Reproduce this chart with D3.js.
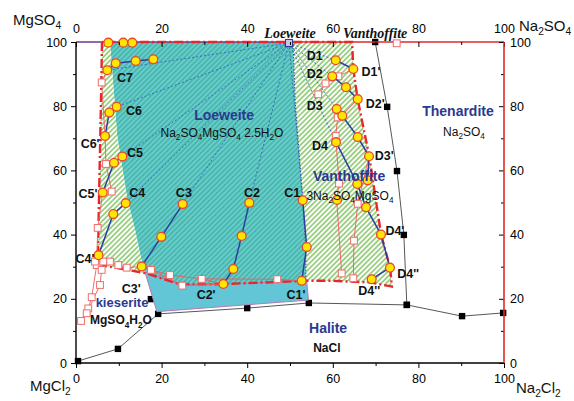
<!DOCTYPE html>
<html>
<head>
<meta charset="utf-8">
<script src="https://cdn.jsdelivr.net/npm/d3@7"></script>
<style>
  body { margin: 0; background: #fff; }
  svg { display: block; font-family: "Liberation Sans", Arial, sans-serif; }
</style>
</head>
<body>
<svg id="chart" width="574" height="401"></svg>
<script>
// ---- Jänecke diagram, Na2Cl2–MgCl2–Na2SO4–MgSO4 (x: Na2 fraction, y: SO4 fraction) ----

const majorTicks = [0, 20, 40, 60, 80, 100];
const minorTicks = [10, 30, 50, 70, 90];

// crystallisation fields (composition %, x / y)
const loeweiteField = [[7.94,100],[50.7,100],[51.2,81.9],[51.9,69.5],[53.0,50.8],[53.7,35.2],[53.7,25.5],
  [44.6,25.1],[32.0,24.5],[24.3,24.5],[16.5,27.9],[15.7,29.6],[13.8,41.4],[11.9,51.7],[9.6,71.0]];
const leftHatchField = [[6.07,100],[7.94,100],[9.6,71.0],[11.9,51.7],[13.8,41.4],[15.7,29.6],[16.5,27.9],
  [10.98,29.3],[6.78,30.2],[5.14,31.5],[5.14,35.2],[5.37,50.8],[5.61,66.4],[5.84,81.9]];
const vanthoffiteField = [[50.7,100],[64.5,100],[64.79,91.6],[65.82,82.2],[68.46,64.5],[71.3,39.9],[73.4,29.6],
  [73.8,23.8],[68.7,25.1],[60.0,25.6],[53.7,25.5],[53.7,35.2],[53.0,50.8],[51.9,69.5],[51.2,81.9]];
const loeweiteRightEdge = [[50.7,100],[51.2,81.9],[51.9,69.5],[53.0,50.8],[53.7,35.2],[53.7,25.5]];
const haliteLoeweiteField = [[16.1,28.4],[18.9,16.0],[54.3,19.6],[53.9,25.6],[44.6,25.1],[32.0,24.5],[24.3,24.5]];

// saturation boundary (dash-dot)
const saturationBoundary = [[6.07,100],[5.84,81.9],[5.61,66.4],[5.37,50.8],[5.14,35.2],[5.14,31.5],[6.78,30.2],
  [10.98,29.3],[16.5,27.9],[24.3,24.5],[32.0,24.5],[44.6,25.1],[53.0,25.6],[60.0,25.6],[68.7,25.1],[73.8,23.8],
  [73.4,29.6],[71.3,39.9],[68.5,64.5],[65.8,82.2],[64.8,91.6],[64.5,100],[6.07,100]];

// invariant curves of the stable system (black squares)
const thenarditeCurve = [[69.9,100],[72.7,79.8],[75.0,59.8],[76.6,39.9],[77.3,18.1]];
const haliteCurve = [[0.47,0.6],[9.8,4.4],[19.2,15.3],[40.0,17.1],[54.4,18.7],[77.3,18.1],[90.2,14.6],[99.8,15.6]];
const kieseritePoint = [[17.5,19.9]];

// tie lines, series C and D (yellow circles)
const tieC7 = [[7.31,91.2],[9.28,93.4],[13.95,94.1],[18.06,94.6]];
const tieC6 = [[6.78,70.7],[7.78,78.0],[9.51,79.8]];
const tieC5 = [[6.24,53.1],[8.88,62.4],[10.82,64.3]];
const tieC4 = [[5.26,33.6],[8.71,46.4],[11.61,49.8]];
const tieC3 = [[15.35,30.1],[19.93,39.3],[24.93,49.5]];
const tieC2 = [[34.42,24.6],[36.75,29.3],[38.71,39.6],[40.49,49.9]];
const tieC1 = [[52.73,25.6],[53.9,36.1],[52.97,50.7]];
const tieD1 = [[60.68,94.3],[64.79,91.6]];
const tieD2 = [[59.88,89.3],[63.08,85.9],[65.82,82.2]];
const tieD3 = [[60.91,79.1],[62.22,77.0],[65.82,70.4],[68.46,64.4],[68.15,56.9]];
const tieD4 = [[60.75,68.8],[65.72,55.8],[67.76,48.5],[71.26,40.0],[73.36,29.7],[69.09,26.1]];
const extraPoints = [[7.55,99.8],[11.05,99.8],[13.15,99.8],[60.98,50.8]];

// metastable paths (open squares)
const metaPaths = [
  [[64.79,91.6],[61.3,89.3],[58.3,87.1],[56.6,83.7]],
  [[65.82,82.2],[62.08,77.0],[61.14,76.5],[60.68,70.7],[61.45,55.9],[60.91,50.8],[62.08,27.9]],
  [[68.46,64.4],[65.82,49.6],[64.95,38.1],[64.79,26.4]],
  [[7.31,91.2],[6.0,87.4],[6.78,70.7],[7.01,62.0],[8.34,53.4]],
  [[6.24,53.1],[5.07,42.1],[4.84,30.5]],
  [[15.35,30.1],[11.85,29.7],[9.88,30.5],[7.94,31.6],[6.38,31.6],[4.44,31.6]],
  [[4.84,30.5],[3.67,20.5],[2.87,17.0],[1.17,13.1]],
  [[6.0,29.0],[5.61,24.3],[2.5,15.5]],
  [[15.35,30.1],[17.52,29.0],[21.96,27.4],[29.37,26.2],[34.42,24.6]],
  [[17.52,29.0],[24.84,24.1],[34.42,24.6]],
  [[29.37,26.2],[47.03,26.1],[52.73,25.6]]
];
const metaSquares = [[61.3,89.3],[58.3,87.1],[56.6,83.7],[61.14,76.5],[60.68,70.7],[61.45,55.9],[62.08,27.9],
  [65.82,49.6],[64.95,38.1],[64.79,26.4],[6.0,87.4],[7.01,62.0],[8.34,53.4],[5.07,42.1],[4.84,30.5],
  [11.85,29.7],[9.88,30.5],[7.94,31.6],[6.38,31.6],[4.44,31.6],[3.67,20.5],[2.87,17.0],[1.17,13.1],
  [6.0,29.0],[5.61,24.3],[2.5,15.5],[17.52,29.0],[21.96,27.4],[29.37,26.2],[24.84,24.1],[47.03,26.1],[74.93,99.6]];

// loeweite composition point and its tie-line fan
const loeweitePoint = [49.77, 99.7];
const fanTargets = [[7.31,91.2],[9.51,79.8],[10.82,64.3],[11.61,49.8],[24.93,49.5],[40.49,49.9],[52.97,50.7],
  [60.68,94.3],[59.88,89.3],[60.91,79.1],[60.75,68.8]];

// point names
const pointNames = ["C7","C6","C6'","C5","C5'","C4","C4'","C3","C3'","C2","C2'","C1","C1'",
  "D1","D1'","D2","D2'","D3","D3'","D4","D4'","D4''","D4''"];
const pointNameAt = [[11.45,87.5],[13.55,77.3],[3.3,67.0],[13.8,64.2],[2.8,51.4],[14.3,51.7],[2.1,31.2],
  [25.2,51.7],[12.9,21.8],[41.1,51.7],[30.4,19.9],[50.5,51.7],[51.4,19.9],
  [55.8,94.4],[68.9,89.4],[55.8,88.8],[69.9,79.4],[55.8,78.8],[72.0,63.2],[57.0,66.4],[74.5,39.9],[77.6,26.5],[68.5,21.2]];

// phase names
const phaseNames = ["Loeweite","Vanthoffite","Thenardite","Halite","kieserite"];
const phaseNameAt = [[34.6,75.7],[63.8,56.7],[89.25,76.9],[58.9,9.3],[10.75,17.4]];
const formulas = ["Na_2SO_4MgSO_4 2.5H_2O","3Na_2SO_4MgSO_4","Na_2SO_4","NaCl","MgSO_4H_2O"];
const formulaAt = [[34.1,70.4],[64.0,50.8],[90.65,70.7],[58.6,3.4],[10.5,12.1]];
const topNames = ["Loeweite","Vanthoffite"];
const topNameAt = [[50.0,101.2],[69.9,101.2]];

// ---------------------------------------------------------------
const svg = d3.select("#chart");
const xs = d3.scaleLinear().domain([0, 100]).range([76, 504]);
const ys = d3.scaleLinear().domain([0, 100]).range([363, 42]);
const line = d3.line().x(d => xs(d[0])).y(d => ys(d[1]));
const poly = pts => line(pts) + "Z";

const defs = svg.append("defs");
function hatch(id, bg, stroke, w, gap) {
  const p = defs.append("pattern").attr("id", id).attr("patternUnits", "userSpaceOnUse")
    .attr("width", gap).attr("height", gap).attr("patternTransform", "rotate(45)");
  p.append("rect").attr("width", gap).attr("height", gap).attr("fill", bg);
  p.append("line").attr("x1", gap / 2).attr("x2", gap / 2).attr("y1", 0).attr("y2", gap)
    .attr("stroke", stroke).attr("stroke-width", w);
}
hatch("tealHatch", "#66cdd0", "#3eab94", 1.2, 3.6);
hatch("greenHatch", "#ffffff", "#72bd50", 1.3, 3.6);

function rich(textSel, str, size) {
  const parts = str.split(/(_\d)/).filter(s => s.length);
  const shift = size * 0.28;
  let shifted = false;
  parts.forEach(p => {
    if (p[0] === "_") {
      textSel.append("tspan").attr("font-size", size * 0.68).attr("dy", shifted ? 0 : shift).text(p.slice(1));
      shifted = true;
    } else {
      textSel.append("tspan").attr("font-size", size).attr("dy", shifted ? -shift : 0).text(p);
      shifted = false;
    }
  });
}

// fields
svg.append("path").attr("d", poly(loeweiteField)).attr("fill", "url(#tealHatch)");
svg.append("path").attr("d", poly(leftHatchField)).attr("fill", "url(#greenHatch)");
svg.append("path").attr("d", poly(vanthoffiteField)).attr("fill", "url(#greenHatch)");
svg.append("path").attr("d", line(loeweiteRightEdge)).attr("fill", "none")
  .attr("stroke", "#2b3990").attr("stroke-width", 0.9).attr("stroke-dasharray", "1.5,1.5");

// stable invariant curves
const blackG = svg.append("g");
[thenarditeCurve, haliteCurve].forEach(c => blackG.append("path").attr("d", line(c))
  .attr("fill", "none").attr("stroke", "#444").attr("stroke-width", 0.9));
blackG.selectAll("rect").data(thenarditeCurve.concat(haliteCurve, kieseritePoint)).join("rect")
  .attr("x", d => xs(d[0]) - 3.2).attr("y", d => ys(d[1]) - 3.2)
  .attr("width", 6.4).attr("height", 6.4).attr("fill", "#000");

svg.append("path").attr("d", poly(haliteLoeweiteField)).attr("fill", "#63c6d7")
  .attr("stroke", "#b57ab8").attr("stroke-width", 1);

// tie-line fan toward loeweite
svg.append("g").selectAll("path").data(fanTargets).join("path")
  .attr("d", d => line([loeweitePoint, d])).attr("fill", "none")
  .attr("stroke", "#3554c0").attr("stroke-width", 0.8).attr("stroke-dasharray", "2,2");

// top edge and saturation boundary
svg.append("line").attr("x1", xs(0)).attr("x2", xs(52)).attr("y1", ys(100)).attr("y2", ys(100))
  .attr("stroke", "#6b3a8e").attr("stroke-width", 1.4);
svg.append("line").attr("x1", xs(52)).attr("x2", xs(100)).attr("y1", ys(100)).attr("y2", ys(100))
  .attr("stroke", "#e02a2a").attr("stroke-width", 1.4);
svg.append("path").attr("d", line(saturationBoundary)).attr("fill", "none")
  .attr("stroke", "#e8262b").attr("stroke-width", 2.4).attr("stroke-dasharray", "9,3,2,3");

// metastable paths
const metaG = svg.append("g");
metaPaths.forEach(p => metaG.append("path").attr("d", line(p)).attr("fill", "none")
  .attr("stroke", "#ef5b5b").attr("stroke-width", 0.9));
metaG.selectAll("rect").data(metaSquares).join("rect")
  .attr("x", d => xs(d[0]) - 3.4).attr("y", d => ys(d[1]) - 3.4)
  .attr("width", 6.8).attr("height", 6.8).attr("fill", "#fff")
  .attr("stroke", "#ee6c6c").attr("stroke-width", 1);

// tie lines
const ties = [tieC7, tieC6, tieC5, tieC4, tieC3, tieC2, tieC1, tieD1, tieD2, tieD3, tieD4];
const tieG = svg.append("g");
ties.forEach(t => tieG.append("path").attr("d", line(t)).attr("fill", "none")
  .attr("stroke", "#2b3fa0").attr("stroke-width", 1.5));
tieG.selectAll("circle").data(ties.flat().concat(extraPoints)).join("circle")
  .attr("cx", d => xs(d[0])).attr("cy", d => ys(d[1])).attr("r", 4.4)
  .attr("fill", "#ffe600").attr("stroke", "#e8482c").attr("stroke-width", 1.3);

svg.append("rect").attr("x", xs(loeweitePoint[0]) - 3.5).attr("y", ys(loeweitePoint[1]) - 3.5)
  .attr("width", 7).attr("height", 7).attr("fill", "#c9c4e8").attr("stroke", "#2b3990").attr("stroke-width", 1);

// axes
const fs = 12.5;
function styleAxis(g) {
  g.select(".domain").remove();
  g.selectAll(".tick line").attr("stroke", "#000");
  g.selectAll("text").attr("font-size", fs).attr("fill", "#000")
    .attr("font-family", '"Liberation Sans", Arial, sans-serif');
}
svg.append("g").attr("transform", `translate(${xs(0)},0)`)
  .call(d3.axisLeft(ys).tickValues(majorTicks).tickSize(5).tickPadding(4)).call(styleAxis);
svg.append("g").attr("transform", `translate(${xs(0)},0)`)
  .call(d3.axisLeft(ys).tickValues(minorTicks).tickSize(3).tickFormat("")).call(styleAxis);
svg.append("g").attr("transform", `translate(0,${ys(0)})`)
  .call(d3.axisBottom(xs).tickValues(majorTicks).tickSize(5).tickPadding(6)).call(styleAxis);
svg.append("g").attr("transform", `translate(0,${ys(0)})`)
  .call(d3.axisBottom(xs).tickValues(minorTicks).tickSize(3).tickFormat("")).call(styleAxis);
svg.append("g").attr("transform", `translate(0,${ys(100)})`)
  .call(d3.axisTop(xs).tickValues(majorTicks).tickSize(-5).tickPadding(9)).call(styleAxis);
svg.append("g").attr("transform", `translate(0,${ys(100)})`)
  .call(d3.axisTop(xs).tickValues(minorTicks).tickSize(-3).tickFormat("")).call(styleAxis);
svg.append("g").attr("transform", `translate(${xs(100)},0)`)
  .call(d3.axisRight(ys).tickValues(majorTicks).tickSize(-5).tickPadding(6)).call(styleAxis);
svg.append("g").attr("transform", `translate(${xs(100)},0)`)
  .call(d3.axisRight(ys).tickValues(minorTicks).tickSize(-3).tickFormat("")).call(styleAxis);

// frame
svg.append("line").attr("x1", xs(0)).attr("x2", xs(0)).attr("y1", ys(100)).attr("y2", ys(0) + 0.5)
  .attr("stroke", "#000").attr("stroke-width", 1.4);
svg.append("line").attr("x1", xs(0)).attr("x2", xs(100)).attr("y1", ys(0)).attr("y2", ys(0))
  .attr("stroke", "#000").attr("stroke-width", 1.4);
svg.append("line").attr("x1", xs(100)).attr("x2", xs(100)).attr("y1", ys(100)).attr("y2", ys(0))
  .attr("stroke", "#e02a2a").attr("stroke-width", 1.6);

// corner component names
const corner = [["MgSO_4", 13, 25], ["Na_2SO_4", 519, 31], ["MgCl_2", 30, 391], ["Na_2Cl_2", 516, 393]];
corner.forEach(c => rich(svg.append("text").attr("x", c[1]).attr("y", c[2]).attr("fill", "#111"), c[0], 15));

// point names
svg.append("g").selectAll("text").data(pointNames).join("text")
  .attr("x", (d, i) => xs(pointNameAt[i][0])).attr("y", (d, i) => ys(pointNameAt[i][1]))
  .attr("text-anchor", "middle").attr("font-size", 12.5).attr("font-weight", "bold").attr("fill", "#111")
  .text(d => d);

// phase names and formulas
svg.append("g").selectAll("text").data(phaseNames).join("text")
  .attr("x", (d, i) => xs(phaseNameAt[i][0])).attr("y", (d, i) => ys(phaseNameAt[i][1]))
  .attr("text-anchor", "middle").attr("font-size", (d, i) => i === 4 ? 13 : 14).attr("font-weight", "bold")
  .attr("fill", "#2b3990").text(d => d);
formulas.forEach((f, i) => rich(svg.append("text").attr("x", xs(formulaAt[i][0])).attr("y", ys(formulaAt[i][1]))
  .attr("text-anchor", "middle").attr("fill", "#111").attr("font-weight", i === 3 || i === 4 ? "bold" : "normal"), f, 12));

svg.append("g").selectAll("text").data(topNames).join("text")
  .attr("x", (d, i) => xs(topNameAt[i][0])).attr("y", (d, i) => ys(topNameAt[i][1]))
  .attr("text-anchor", "middle").attr("font-family", '"Liberation Serif", "Times New Roman", serif')
  .attr("font-style", "italic").attr("font-weight", "bold").attr("font-size", 14).attr("fill", "#111")
  .text(d => d);
</script>
</body>
</html>
